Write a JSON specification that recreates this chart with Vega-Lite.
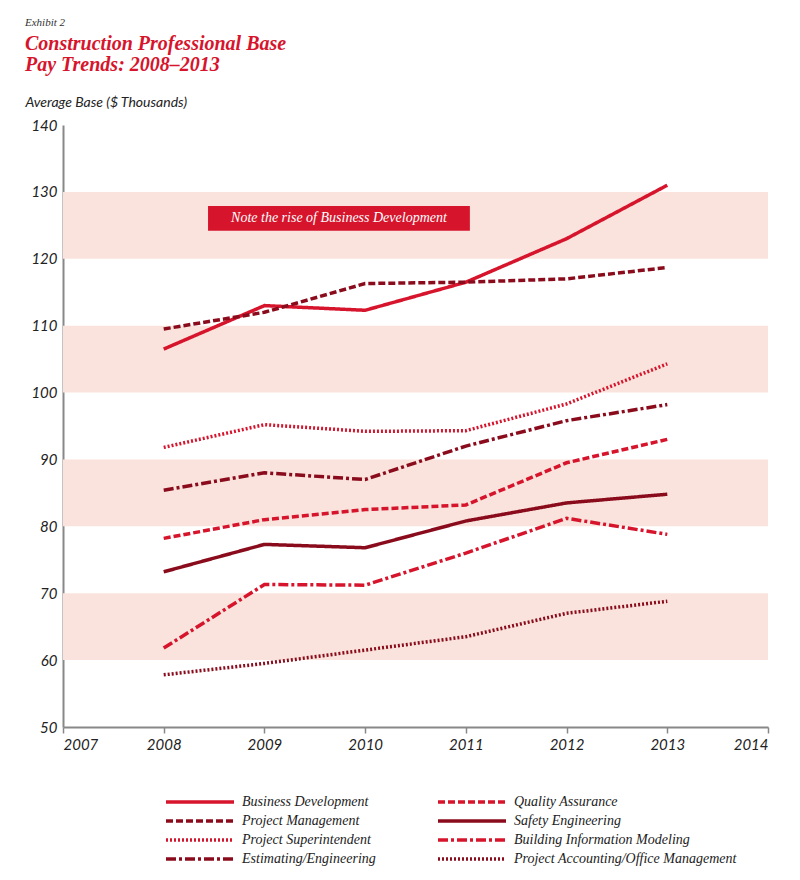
{
  "$schema": "https://vega.github.io/schema/vega-lite/v6.json",
  "autosize": "none",
  "width": 705,
  "height": 602,
  "padding": {"left": 63, "top": 125, "right": 32, "bottom": 153},
  "background": "white",
  "title": {
    "text": "Exhibit 2",
    "subtitle": ["Construction Professional Base", "Pay Trends: 2008–2013"],
    "anchor": "start",
    "frame": "group",
    "dx": -38,
    "offset": 20,
    "font": "Liberation Serif",
    "fontSize": 11,
    "fontStyle": "italic",
    "fontWeight": "normal",
    "color": "#333",
    "subtitleFont": "Liberation Serif",
    "subtitleFontSize": 20,
    "subtitleFontStyle": "italic",
    "subtitleFontWeight": "bold",
    "subtitleColor": "#d6152d",
    "subtitlePadding": 6,
    "subtitleLineHeight": 21
  },
  "datasets": {
    "bands": [
      {"lo": 60, "hi": 70}, {"lo": 80, "hi": 90}, {"lo": 100, "hi": 110}, {"lo": 120, "hi": 130}
    ],
    "pay": [
      {"role": "Business Development", "year": 2008, "base": 106.5},
      {"role": "Business Development", "year": 2009, "base": 113},
      {"role": "Business Development", "year": 2010, "base": 112.3},
      {"role": "Business Development", "year": 2011, "base": 116.5},
      {"role": "Business Development", "year": 2012, "base": 123},
      {"role": "Business Development", "year": 2013, "base": 131},
      {"role": "Project Management", "year": 2008, "base": 109.5},
      {"role": "Project Management", "year": 2009, "base": 112},
      {"role": "Project Management", "year": 2010, "base": 116.3},
      {"role": "Project Management", "year": 2011, "base": 116.5},
      {"role": "Project Management", "year": 2012, "base": 117},
      {"role": "Project Management", "year": 2013, "base": 118.7},
      {"role": "Project Superintendent", "year": 2008, "base": 91.8},
      {"role": "Project Superintendent", "year": 2009, "base": 95.2},
      {"role": "Project Superintendent", "year": 2010, "base": 94.2},
      {"role": "Project Superintendent", "year": 2011, "base": 94.3},
      {"role": "Project Superintendent", "year": 2012, "base": 98.3},
      {"role": "Project Superintendent", "year": 2013, "base": 104.3},
      {"role": "Estimating/Engineering", "year": 2008, "base": 85.4},
      {"role": "Estimating/Engineering", "year": 2009, "base": 88},
      {"role": "Estimating/Engineering", "year": 2010, "base": 87},
      {"role": "Estimating/Engineering", "year": 2011, "base": 92},
      {"role": "Estimating/Engineering", "year": 2012, "base": 95.8},
      {"role": "Estimating/Engineering", "year": 2013, "base": 98.2},
      {"role": "Quality Assurance", "year": 2008, "base": 78.2},
      {"role": "Quality Assurance", "year": 2009, "base": 81},
      {"role": "Quality Assurance", "year": 2010, "base": 82.5},
      {"role": "Quality Assurance", "year": 2011, "base": 83.2},
      {"role": "Quality Assurance", "year": 2012, "base": 89.5},
      {"role": "Quality Assurance", "year": 2013, "base": 93},
      {"role": "Safety Engineering", "year": 2008, "base": 73.2},
      {"role": "Safety Engineering", "year": 2009, "base": 77.3},
      {"role": "Safety Engineering", "year": 2010, "base": 76.8},
      {"role": "Safety Engineering", "year": 2011, "base": 80.8},
      {"role": "Safety Engineering", "year": 2012, "base": 83.5},
      {"role": "Safety Engineering", "year": 2013, "base": 84.8},
      {"role": "Building Information Modeling", "year": 2008, "base": 61.8},
      {"role": "Building Information Modeling", "year": 2009, "base": 71.3},
      {"role": "Building Information Modeling", "year": 2010, "base": 71.2},
      {"role": "Building Information Modeling", "year": 2011, "base": 76},
      {"role": "Building Information Modeling", "year": 2012, "base": 81.2},
      {"role": "Building Information Modeling", "year": 2013, "base": 78.8},
      {"role": "Project Accounting/Office Management", "year": 2008, "base": 57.8},
      {"role": "Project Accounting/Office Management", "year": 2009, "base": 59.5},
      {"role": "Project Accounting/Office Management", "year": 2010, "base": 61.5},
      {"role": "Project Accounting/Office Management", "year": 2011, "base": 63.5},
      {"role": "Project Accounting/Office Management", "year": 2012, "base": 67},
      {"role": "Project Accounting/Office Management", "year": 2013, "base": 68.8}
    ],
    "note": [
      {"x1": 2008.44, "x2": 2011.04, "y1": 124.2, "y2": 127.9, "xm": 2009.74, "ym": 126.05, "label": "Note the rise of Business Development"}
    ]
  },
  "layer": [
    {
      "data": {"name": "bands"},
      "mark": {"type": "rect", "color": "#fae3dc"},
      "encoding": {
        "y": {"field": "lo", "type": "quantitative", "scale": {"domain": [50, 140]}},
        "y2": {"field": "hi"}
      }
    },
    {
      "data": {"name": "pay"},
      "mark": {"type": "line", "strokeWidth": 3.5},
      "encoding": {
        "x": {
          "field": "year", "type": "quantitative",
          "scale": {"domain": [2007, 2014], "nice": false, "zero": false},
          "axis": {"format": "d", "values": [2007, 2008, 2009, 2010, 2011, 2012, 2013, 2014], "title": null, "grid": false, "tickSize": 6, "labelPadding": 4}
        },
        "y": {
          "field": "base", "type": "quantitative",
          "scale": {"domain": [50, 140], "nice": false, "zero": false},
          "axis": {
            "values": [50, 60, 70, 80, 90, 100, 110, 120, 130, 140],
            "title": "Average Base ($ Thousands)", "titleAngle": 0, "titleX": -38, "titleY": -16,
            "titleAlign": "left", "titleBaseline": "bottom",
            "grid": false, "ticks": false, "labelPadding": 6
          }
        },
        "color": {
          "field": "role", "type": "nominal",
          "scale": {
            "domain": ["Business Development", "Project Management", "Project Superintendent", "Estimating/Engineering", "Quality Assurance", "Safety Engineering", "Building Information Modeling", "Project Accounting/Office Management"],
            "range": ["#d6152d", "#8a0c1c", "#d6152d", "#8a0c1c", "#d6152d", "#8a0c1c", "#d6152d", "#8a0c1c"]
          },
          "legend": {
            "title": null, "orient": "none", "legendX": 125, "legendY": 665, "columns": 2,
            "symbolType": "M-3.4,0H3.4", "symbolSize": 400, "symbolStrokeWidth": 3.5,
            "labelFont": "Liberation Serif", "labelFontStyle": "italic", "labelFontSize": 14,
            "labelColor": "#222", "labelOffset": 30, "rowPadding": 0, "columnPadding": 55, "labelLimit": 300
          }
        },
        "strokeDash": {
          "field": "role", "type": "nominal",
          "scale": {
            "domain": ["Business Development", "Project Management", "Project Superintendent", "Estimating/Engineering", "Quality Assurance", "Safety Engineering", "Building Information Modeling", "Project Accounting/Office Management"],
            "range": [[1, 0], [7, 3], [2, 2], [10, 3, 3, 3], [7, 3], [1, 0], [10, 3, 3, 3], [2, 2]]
          },
          "legend": null
        }
      }
    },
    {
      "data": {"name": "note"},
      "mark": {"type": "rect", "color": "#d6152d"},
      "encoding": {
        "x": {"field": "x1", "type": "quantitative"},
        "x2": {"field": "x2"},
        "y": {"field": "y1", "type": "quantitative"},
        "y2": {"field": "y2"}
      }
    },
    {
      "data": {"name": "note"},
      "mark": {"type": "text", "color": "white", "font": "Liberation Serif", "fontStyle": "italic", "fontSize": 14},
      "encoding": {
        "x": {"field": "xm", "type": "quantitative"},
        "y": {"field": "ym", "type": "quantitative"},
        "text": {"field": "label"}
      }
    }
  ],
  "config": {
    "view": {"stroke": null},
    "axis": {
      "labelFont": "Lato", "labelFontStyle": "italic", "labelFontSize": 15, "labelColor": "#222",
      "titleFont": "Lato", "titleFontStyle": "italic", "titleFontWeight": "normal", "titleFontSize": 14, "titleColor": "#222",
      "domainColor": "#888", "domainWidth": 2, "tickColor": "#888", "tickWidth": 1.5
    }
  }
}
